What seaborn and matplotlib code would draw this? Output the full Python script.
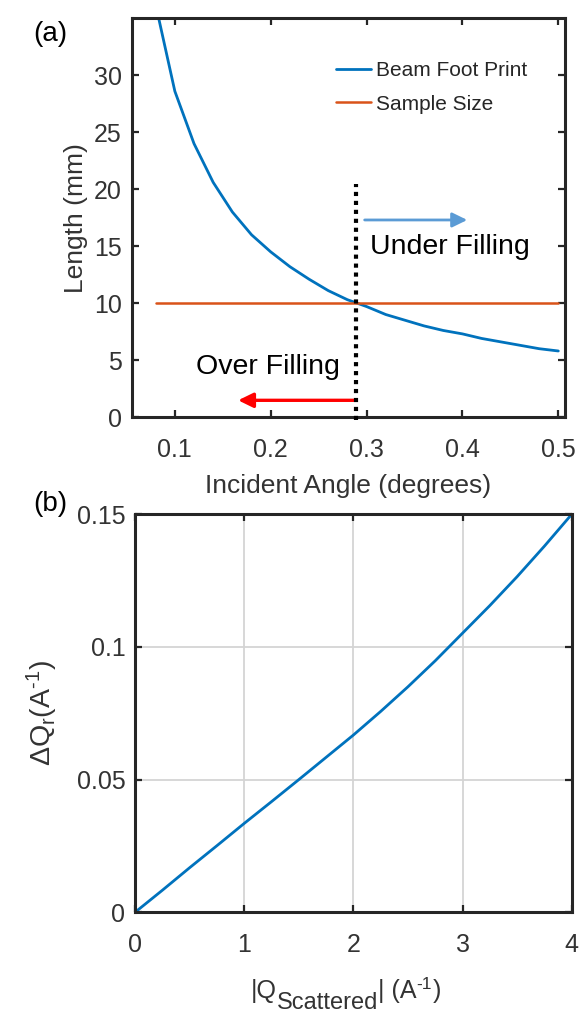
import numpy as np
import pandas as pd
import matplotlib
matplotlib.use("Agg")
import matplotlib.pyplot as plt
import matplotlib.transforms as mtransforms
import seaborn as sns

# ---------------- data ----------------
# Panel (a)
angle_deg = [0.08, 0.10, 0.12, 0.14, 0.16, 0.18, 0.20, 0.22, 0.24, 0.26, 0.28,
             0.30, 0.32, 0.34, 0.36, 0.38, 0.40, 0.42, 0.44, 0.46, 0.48, 0.50]
footprint_mm = [36.2, 28.6, 24.0, 20.6, 18.0, 16.0, 14.5, 13.2, 12.1, 11.1, 10.3,
                9.7, 9.0, 8.5, 8.0, 7.6, 7.3, 6.9, 6.6, 6.3, 6.0, 5.8]
sample_angle = [0.08, 0.50]
sample_mm = [10.0, 10.0]
crossover_angle = 0.289
crossover_top = 20.5
legend_labels = ["Beam Foot Print", "Sample Size"]

# Panel (b)
q_scattered = [0.0, 0.25, 0.5, 0.75, 1.0, 1.25, 1.5, 1.75, 2.0, 2.25, 2.5,
               2.75, 3.0, 3.25, 3.5, 3.75, 4.0]
delta_qr = [0.0, 0.0083, 0.0168, 0.0251, 0.0335, 0.0417, 0.0500, 0.0584,
            0.0668, 0.0757, 0.0850, 0.0948, 0.1052, 0.1156, 0.1265, 0.1380,
            0.150]

a_xticks = [0.1, 0.2, 0.3, 0.4, 0.5]
a_yticks = [0, 5, 10, 15, 20, 25, 30]
b_xticks = [0, 1, 2, 3, 4]
b_yticks = [0, 0.05, 0.1, 0.15]
b_yticklabels = ["0", "0.05", "0.1", "0.15"]

# ---------------- style ----------------
sns.set_theme(style="white")
plt.rcParams["font.family"] = ["Liberation Sans", "DejaVu Sans"]
plt.rcParams["mathtext.default"] = "regular"

BLUE = "#0072BD"
ORANGE = "#D95319"
FRAME = "#262626"
TICK_FS = 18
LABEL_FS = 19

fig = plt.figure(figsize=(5.81, 10.13), dpi=100)
ax1 = fig.add_axes([0.2267, 0.5883, 0.7458, 0.3936])
ax2 = fig.add_axes([0.2324, 0.0994, 0.7516, 0.3929])


def style_axes(ax):
    for s in ax.spines.values():
        s.set_visible(True)
        s.set_linewidth(2.2)
        s.set_color(FRAME)
    ax.tick_params(direction="in", length=5, width=1.6, colors=FRAME,
                   labelsize=TICK_FS, labelcolor="#333333",
                   top=True, right=True, bottom=True, left=True)
    ax.tick_params(axis="x", pad=15)
    ax.tick_params(axis="y", pad=7)


# ---------------- panel (a) ----------------
df_beam = pd.DataFrame({"angle": angle_deg, "length": footprint_mm})
df_sample = pd.DataFrame({"angle": sample_angle, "length": sample_mm})
sns.lineplot(data=df_beam, x="angle", y="length", color=BLUE, lw=2.0,
             ax=ax1, label=legend_labels[0])
sns.lineplot(data=df_sample, x="angle", y="length", color=ORANGE, lw=1.8,
             ax=ax1, label=legend_labels[1])
ax1.plot([crossover_angle, crossover_angle], [-0.3, crossover_top],
         color="black", lw=3.0, linestyle=(0, (1, 1.15)), clip_on=False,
         dash_capstyle="butt", zorder=5)

ax1.annotate("", xy=(0.405, 17.3), xytext=(0.298, 17.3),
             arrowprops=dict(arrowstyle="-|>,head_length=0.45,head_width=0.22",
                             color="#5B9BD5", lw=2.0, mutation_scale=20,
                             shrinkA=0, shrinkB=0))
ax1.annotate("", xy=(0.166, 1.47), xytext=(0.289, 1.47),
             arrowprops=dict(arrowstyle="-|>,head_length=0.45,head_width=0.22",
                             color="#FF0000", lw=2.4, mutation_scale=20,
                             shrinkA=0, shrinkB=0))
ax1.text(0.3035, 14.3, "Under Filling", fontsize=20.5, color="black",
         ha="left", va="baseline")
ax1.text(0.122, 3.8, "Over Filling", fontsize=20.5, color="black",
         ha="left", va="baseline")

ax1.set_xlim(0.055, 0.507)
ax1.set_ylim(0, 35)
ax1.set_xticks(a_xticks)
ax1.set_xticklabels([f"{v:g}" for v in a_xticks])
ax1.set_yticks(a_yticks)
ax1.set_xlabel("Incident Angle (degrees)", fontsize=LABEL_FS, color="#333333",
               labelpad=9)
ax1.set_ylabel("Length (mm)", fontsize=LABEL_FS, color="#333333", labelpad=4)
style_axes(ax1)
ax1.legend(loc="upper left", bbox_to_anchor=(0.471, 0.893), frameon=False,
           fontsize=15, handlelength=1.7, handletextpad=0.25,
           labelspacing=0.7, borderpad=0, borderaxespad=0)

# ---------------- panel (b) ----------------
df_q = pd.DataFrame({"q": q_scattered, "dq": delta_qr})
sns.lineplot(data=df_q, x="q", y="dq", color=BLUE, lw=2.0, ax=ax2)
ax2.set_xlim(0, 4)
ax2.set_ylim(0, 0.15)
ax2.set_xticks(b_xticks)
ax2.set_yticks(b_yticks)
ax2.set_yticklabels(b_yticklabels)
ax2.grid(True, color="#d4d4d4", lw=1.3)
ax2.set_axisbelow(True)
ax2.set_xlabel("")
ax2.set_ylabel("$\\Delta$Q$_r$(A$^{\u2010 1}$)", fontsize=20.5,
               color="#333333", labelpad=12)
style_axes(ax2)

# composite x label for panel (b): |Q_Scattered| (A^-1)
ident = mtransforms.IdentityTransform()
renderer = fig.canvas.get_renderer()
H = fig.bbox.height
base = H - 998
xpos = 251
pieces = [("|Q", 18, 0, 0), ("Scattered", 17, -11, 0), ("| (A", 18, 0, 0),
          ("-1", 12.5, 9, -1), (")", 18, 0, 1)]
for txt, fs, dy, dx in pieces:
    t = fig.text(xpos + dx, base + dy, txt, fontsize=fs, color="#333333",
                 ha="left", va="baseline", transform=ident)
    bb = t.get_window_extent(renderer)
    xpos = bb.x1

fig.text(0.057, 0.966, "(a)", fontsize=20, color="black", va="center")
fig.text(0.057, 0.502, "(b)", fontsize=20, color="black", va="center")

fig.savefig("out.png", dpi=100)
